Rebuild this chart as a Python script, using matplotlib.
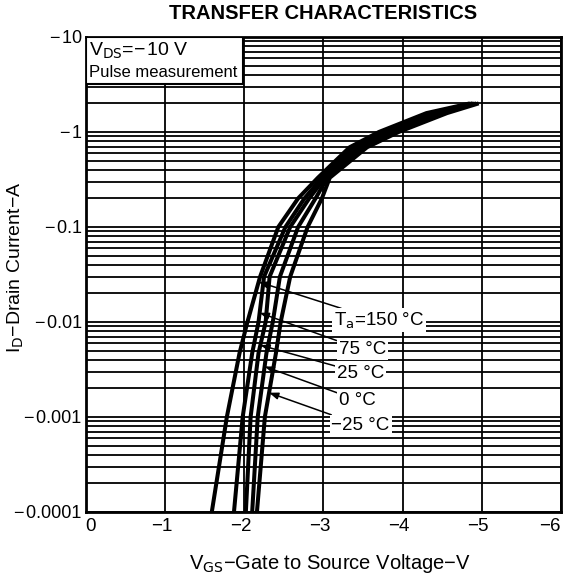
import matplotlib
matplotlib.use('Agg')
import matplotlib.pyplot as plt
import numpy as np
from matplotlib.patches import Rectangle
from matplotlib.ticker import LogLocator, NullFormatter
from matplotlib.transforms import ScaledTranslation, blended_transform_factory

plt.rcParams['font.family'] = ['Liberation Sans', 'DejaVu Sans']

# drain current points shared by all curves (A, negative as on the chart)
i_d = [-1e-4, -1e-3, -4.7e-3, -1e-2, -3e-2, -0.1, -0.2, -0.33, -0.69, -1.0, -1.58, -2.0]

# gate voltage at those currents, per ambient temperature (V)
vgs_150 = [-1.59, -1.78, -1.94, -2.04, -2.20, -2.43, -2.68, -2.93, -3.33, -3.70, -4.30, -4.85]
vgs_75 = [-1.87, -1.98, -2.10, -2.18, -2.25, -2.52, -2.76, -2.98, -3.38, -3.76, -4.36, -4.88]
vgs_25 = [-2.02, -2.08, -2.18, -2.27, -2.32, -2.58, -2.82, -3.02, -3.44, -3.82, -4.43, -4.90]
vgs_0 = [-2.10, -2.17, -2.28, -2.36, -2.45, -2.68, -2.90, -3.05, -3.50, -3.88, -4.50, -4.93]
vgs_m25 = [-2.16, -2.26, -2.40, -2.46, -2.58, -2.80, -2.98, -3.08, -3.55, -3.95, -4.56, -4.96]

curves = [vgs_150, vgs_75, vgs_25, vgs_0, vgs_m25]
labels = ['T$_{\\mathrm{a}}$=150 °C', '75 °C', '25 °C', '0 °C', '−25 °C']
# current where each label's pointer touches its curve, and where the label sits
tip_current = [-0.0264, -0.0125, -0.0057, -0.0034, -0.0018]
label_current = [-0.0104, -0.0051, -0.0029, -0.0015, -0.00082]
label_v = [-3.13, -3.19, -3.17, -3.2, -3.1]

x_ticks = [0, -1, -2, -3, -4, -5, -6]
x_labels = ['0', '−1', '−2', '−3', '−4', '−5', '−6']
y_ticks = [1e-4, 1e-3, 1e-2, 1e-1, 1, 10]
y_labels = ['−\u200a0.0001', '−\u200a0.001', '−\u200a0.01', '−\u200a0.1', '−\u200a1', '−\u200a10']

fig = plt.figure(figsize=(5.65, 5.77), dpi=100)
ax = fig.add_axes([0.152, 0.1127, 0.841, 0.8232])

ax.set_yscale('log')
ax.set_xlim(0, -6)
ax.set_ylim(1e-4, 10)

for v in curves:
    ax.plot(v, -np.array(i_d), color='black', lw=2.9, solid_capstyle='butt', zorder=3)

ax.set_xticks(x_ticks)
ax.set_xticklabels([])
ax.set_yticks(y_ticks)
ax.set_yticklabels(y_labels, fontsize=13)
ax.yaxis.set_minor_locator(LogLocator(base=10, subs=np.arange(2, 10)))
ax.yaxis.set_minor_formatter(NullFormatter())
ax.tick_params(which='both', length=0)
ax.tick_params(axis='y', pad=3)
ax.grid(True, which='both', axis='y', color='black', lw=1.3)
ax.grid(True, which='major', axis='x', color='black', lw=1.3)
for s in ax.spines.values():
    s.set_linewidth(2)

# x tick labels: digit sits under the gridline, the minus hangs to the left
xlab_tr = blended_transform_factory(ax.transData, ax.transAxes)
for xv, lab in zip(x_ticks, x_labels):
    if xv == x_ticks[-1]:
        off, ha = ScaledTranslation(0, 0, fig.dpi_scale_trans), 'right'
    elif lab.startswith('−'):
        off, ha = ScaledTranslation(5 / 72, 0, fig.dpi_scale_trans), 'right'
    else:
        off, ha = ScaledTranslation(3 / 72, 0, fig.dpi_scale_trans), 'center'
    ax.text(xv, -0.012, lab, transform=xlab_tr + off, ha=ha, va='top', fontsize=13.5,
            clip_on=False)

# condition box in the upper left corner
ax.add_patch(Rectangle((0, 0.9), 0.33, 0.1, transform=ax.transAxes, facecolor='white',
                       edgecolor='black', lw=1.5, zorder=4))
ax.text(0.006, 0.970, 'V$_{\\mathrm{DS}}$=−\u200a10 V', transform=ax.transAxes, fontsize=14,
        va='center', ha='left', zorder=5)
ax.text(0.006, 0.925, 'Pulse measurement', transform=ax.transAxes, fontsize=12,
        va='center', ha='left', zorder=5)

for v, lab, tc, lc, lv in zip(curves, labels, tip_current, label_current, label_v):
    # pointer tip placed on the curve at the given current
    tv = np.interp(np.log10(-tc), np.log10(-np.array(i_d)), v)
    ax.annotate(lab, xy=(tv, -tc), xytext=(lv, -lc), fontsize=13.5, ha='left', va='center',
                bbox=dict(boxstyle='square,pad=0.1', fc='white', ec='none'),
                arrowprops=dict(arrowstyle='-|>,head_length=0.4,head_width=0.15', color='black',
                                lw=1.1, shrinkA=0, shrinkB=0),
                zorder=6)

ax.set_xlabel('V$_{\\mathrm{GS}}$−Gate to Source Voltage−V', fontsize=14.5)
ax.xaxis.set_label_coords(0.514, -0.084)
ax.set_ylabel('I$_{\\mathrm{D}}$−Drain Current−A', fontsize=14)
ax.yaxis.set_label_coords(-0.126, 0.516)
fig.text(0.5717, 0.977, 'TRANSFER CHARACTERISTICS', fontsize=14.5, fontweight='bold',
         ha='center', va='center')

fig.savefig('out.png', dpi=100)
